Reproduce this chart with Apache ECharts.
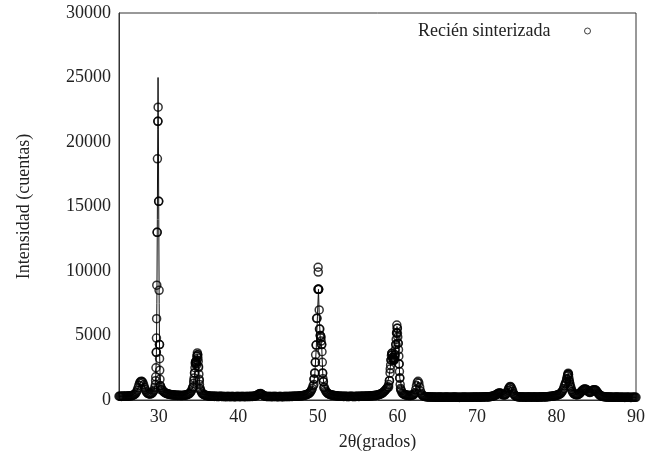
<!DOCTYPE html>
<html>
<head>
<meta charset="utf-8">
<script src="https://cdn.jsdelivr.net/npm/echarts@6/dist/echarts.min.js"></script>
<style>
html, body { margin: 0; padding: 0; background: #fff; }
#chart { width: 659px; height: 459px; }
</style>
</head>
<body>
<div id="chart"></div>
<script>
const seriesName = "Recién sinterizada";
const xName = "2θ(grados)";
const yName = "Intensidad (cuentas)";

// scan sampled every 0.1 deg from 25 to 90, one row per degree
const scanStart = 25;
const scanStep = 0.1;
const scanCounts = [
  290, 300, 300, 280, 290, 310, 300, 290, 300, 310,
  290, 300, 320, 310, 310, 320, 340, 350, 380, 410,
  450, 520, 620, 760, 950, 1150, 1320, 1420, 1460, 1430,
  1350, 1180, 980, 820, 680, 590, 520, 490, 470, 460,
  480, 510, 560, 640, 760, 980, 1500, 3700, 13000, 21600,
  15400, 4300, 1100, 950, 820, 720, 650, 600, 560, 530,
  500, 480, 460, 440, 430, 420, 410, 400, 390, 385,
  380, 370, 370, 360, 350, 360, 360, 350, 340, 350,
  350, 360, 360, 370, 380, 400, 420, 450, 480, 530,
  600, 700, 850, 1000, 1500, 2100, 2900, 2850, 3400, 3500,
  2600, 1500, 900, 700, 560, 490, 440, 410, 380, 360,
  340, 330, 320, 310, 300, 300, 290, 290, 300, 290,
  280, 290, 290, 280, 270, 280, 280, 290, 290, 280,
  270, 280, 280, 270, 260, 270, 280, 270, 270, 280,
  260, 270, 280, 270, 270, 260, 260, 270, 270, 280,
  280, 270, 260, 270, 270, 280, 280, 270, 260, 270,
  270, 280, 280, 270, 270, 280, 290, 280, 280, 290,
  300, 310, 320, 350, 380, 420, 460, 490, 500, 470,
  420, 370, 330, 310, 290, 280, 280, 270, 270, 280,
  280, 270, 260, 270, 270, 280, 280, 270, 270, 260,
  260, 270, 280, 270, 270, 260, 260, 270, 280, 270,
  270, 280, 280, 270, 270, 280, 290, 280, 280, 290,
  290, 300, 300, 290, 290, 300, 310, 310, 320, 320,
  330, 340, 350, 360, 380, 400, 420, 450, 480, 520,
  580, 650, 760, 900, 1100, 1600, 2100, 2920, 4260, 6330,
  8580, 8580, 5500, 5000, 4900, 4300, 2100, 1420, 1000, 820,
  680, 600, 540, 490, 460, 430, 410, 390, 380, 360,
  350, 340, 330, 330, 320, 310, 300, 300, 290, 290,
  300, 290, 280, 280, 290, 290, 280, 270, 270, 280,
  280, 290, 290, 280, 280, 270, 270, 280, 280, 290,
  290, 280, 280, 290, 290, 300, 300, 290, 290, 300,
  300, 310, 310, 300, 300, 310, 320, 320, 330, 330,
  340, 340, 350, 360, 370, 380, 400, 420, 440, 470,
  500, 540, 580, 640, 700, 770, 850, 920, 1000, 1200,
  1500, 2400, 3100, 3620, 3300, 3100, 3150, 3500, 4300, 5200,
  5560, 4400, 2800, 1700, 900, 700, 550, 500, 450, 420,
  400, 380, 370, 360, 350, 350, 340, 350, 360, 380,
  400, 460, 560, 800, 1100, 1350, 1450, 1300, 1000, 700,
  520, 400, 340, 300, 280, 270, 260, 250, 240, 240,
  230, 240, 240, 230, 220, 230, 230, 220, 220, 230,
  220, 210, 210, 230, 230, 220, 220, 210, 210, 220,
  220, 230, 230, 220, 210, 220, 220, 210, 210, 220,
  220, 230, 230, 220, 210, 220, 220, 210, 200, 210,
  220, 210, 210, 220, 230, 220, 220, 210, 210, 220,
  220, 210, 210, 220, 230, 220, 220, 230, 230, 220,
  220, 230, 230, 220, 220, 230, 240, 230, 230, 240,
  240, 250, 250, 240, 240, 250, 260, 270, 280, 290,
  300, 320, 340, 370, 400, 440, 480, 520, 550, 540,
  520, 470, 420, 400, 380, 390, 420, 500, 600, 750,
  900, 1000, 1050, 980, 850, 680, 500, 400, 330, 300,
  270, 260, 250, 240, 240, 230, 230, 240, 240, 230,
  230, 220, 220, 230, 230, 240, 240, 230, 220, 220,
  230, 240, 240, 230, 230, 220, 220, 230, 240, 230,
  230, 240, 240, 250, 250, 240, 240, 250, 260, 260,
  270, 270, 280, 290, 290, 300, 310, 320, 330, 340,
  360, 380, 400, 430, 460, 500, 560, 650, 750, 900,
  1100, 1250, 1400, 1650, 1900, 2000, 1500, 1250, 1000, 800,
  650, 560, 480, 450, 420, 410, 400, 420, 450, 500,
  560, 630, 700, 760, 820, 850, 860, 840, 800, 720,
  650, 600, 580, 600, 650, 720, 780, 800, 800, 780,
  720, 640, 550, 470, 400, 350, 320, 300, 280, 270,
  260, 250, 240, 240, 230, 230, 220, 230, 230, 220,
  220, 210, 210, 220, 220, 230, 230, 220, 210, 210,
  220, 210, 210, 220, 220, 210, 200, 210, 210, 220,
  220, 210, 210, 200, 200, 210, 210, 220, 220, 210,
  210
];

// finer steps over the sharp reflections [2theta, counts]
const peak30 = [
  [29.58, 1200], [29.62, 1800], [29.65, 2500], [29.68, 3700], [29.71, 4800], [29.73, 6300], [29.75, 8900],
  [29.79, 13000], [29.83, 18700], [29.88, 21600], [29.92, 22700], [29.98, 15400], [30.04, 8500], [30.08, 4300],
  [30.10, 3200], [30.12, 2300], [30.15, 1600], [30.19, 1100], [30.25, 800]
];
const peak35 = [
  [34.30, 1000], [34.40, 1300], [34.45, 1700], [34.50, 2100], [34.55, 2500], [34.60, 2800], [34.63, 2950],
  [34.66, 3000], [34.70, 2850], [34.74, 2700], [34.78, 3100], [34.82, 3400], [34.85, 3650], [34.88, 3500],
  [34.92, 3250], [34.96, 3000], [35.00, 2500], [35.04, 2000], [35.08, 1600], [35.12, 1200], [35.20, 800]
];
const peak50 = [
  [49.50, 1200], [49.55, 1630], [49.62, 2070], [49.67, 2920], [49.72, 3500], [49.78, 4260], [49.84, 6330],
  [50.03, 10290], [50.05, 9920], [50.08, 8580], [50.10, 8580], [50.17, 6980], [50.25, 5500], [50.31, 5000],
  [50.36, 4800], [50.41, 4570], [50.46, 4300], [50.52, 3740], [50.56, 2920], [50.60, 2070], [50.64, 1650],
  [50.68, 1420], [50.75, 950]
];
const peak60 = [
  [58.90, 1000], [59.00, 1500], [59.08, 2100], [59.15, 2700], [59.20, 3100], [59.25, 3450], [59.30, 3620],
  [59.35, 3500], [59.40, 3300], [59.45, 3200], [59.50, 3100], [59.55, 3050], [59.60, 3150], [59.65, 3300],
  [59.70, 3500], [59.75, 3900], [59.80, 4300], [59.85, 4700], [59.90, 5200], [59.93, 5810], [59.97, 5560],
  [60.01, 5170], [60.05, 4880], [60.10, 4400], [60.14, 3900], [60.18, 3400], [60.22, 2800], [60.26, 2200],
  [60.30, 1700], [60.35, 1200], [60.42, 800]
];
const peak81 = [
  [81.20, 1300], [81.30, 1600], [81.38, 1850], [81.44, 2000], [81.48, 2080], [81.52, 1950], [81.56, 1700],
  [81.62, 1400], [81.70, 1100]
];

// fitted profile drawn as a thin line
const fitCurve = [
  [25, 290], [26.5, 320], [27.2, 620], [27.5, 1100], [27.8, 1450], [28.1, 1200], [28.5, 600], [29.0, 480],
  [29.4, 750], [29.6, 1300], [29.7, 3500], [29.76, 7500], [29.82, 14000], [29.87, 21000], [29.91, 25000],
  [29.95, 21000], [30.0, 14000], [30.05, 7500], [30.1, 3800], [30.16, 2000], [30.3, 1000], [30.6, 650],
  [31.5, 420], [33, 350], [34.0, 600], [34.3, 1000], [34.5, 2000], [34.65, 2900], [34.75, 2900], [34.85, 3550],
  [34.95, 3150], [35.05, 2000], [35.2, 900], [35.6, 440], [37, 280], [42.4, 380], [42.8, 480], [43.2, 330],
  [48.5, 400], [49.3, 900], [49.6, 1800], [49.8, 4000], [49.95, 6500], [50.08, 8580], [50.18, 6500],
  [50.3, 4800], [50.4, 4600], [50.5, 3900], [50.62, 2000], [50.8, 1000], [51.3, 500], [52.5, 320],
  [57.5, 380], [58.6, 900], [59.0, 2000], [59.3, 3500], [59.5, 3150], [59.7, 3500], [59.85, 4600],
  [59.95, 5700], [60.05, 5200], [60.15, 3900], [60.3, 1700], [60.6, 800], [61.5, 360], [62.2, 560],
  [62.6, 1450], [63.0, 520], [64, 230], [72.4, 400], [72.8, 550], [73.3, 400], [73.8, 600], [74.2, 1050],
  [74.6, 500], [75.5, 240], [80.4, 460], [81.0, 1100], [81.48, 2050], [81.9, 1100], [82.5, 400],
  [83.2, 700], [83.65, 860], [84.2, 580], [84.8, 800], [85.3, 480], [86, 260], [90, 210]
];

const xMin = 25;
const xMax = 90;
const yMax = 30000;

const observed = scanCounts
  .map((c, i) => [+(scanStart + i * scanStep).toFixed(2), c])
  .concat(peak30, peak35, peak50, peak60, peak81);

const serif = "Liberation Serif";
const ink = "#222";

const chart = echarts.init(document.querySelector("#chart"));
chart.setOption({
  animation: false,
  backgroundColor: "#fff",
  grid: {
    left: 119,
    right: 23,
    top: 13,
    bottom: 59,
    show: true,
    borderColor: "#333",
    borderWidth: 1,
  },
  legend: {
    data: [seriesName],
    right: 63,
    top: 17,
    align: "right",
    icon: "circle",
    itemWidth: 64,
    itemHeight: 6,
    itemStyle: { color: "rgba(0,0,0,0)", borderColor: "#111", borderWidth: 1 },
    textStyle: { fontFamily: serif, fontSize: 18, color: ink },
  },
  xAxis: {
    type: "value",
    min: xMin,
    max: xMax,
    interval: 5,
    name: xName,
    nameLocation: "middle",
    nameGap: 33,
    nameTextStyle: { fontFamily: serif, fontSize: 18, color: ink },
    axisLine: { lineStyle: { color: "#333", width: 1 } },
    axisTick: { show: false },
    splitLine: { show: false },
    axisLabel: {
      fontFamily: serif,
      fontSize: 18,
      color: ink,
      margin: 8,
      formatter: v => (v % 10 === 0 ? String(v) : ""),
    },
  },
  yAxis: {
    type: "value",
    min: 0,
    max: yMax,
    interval: 5000,
    name: yName,
    nameLocation: "middle",
    nameGap: 86,
    nameTextStyle: { fontFamily: serif, fontSize: 18, color: ink },
    axisLine: { show: true, lineStyle: { color: "#333", width: 1 } },
    axisTick: { show: false },
    splitLine: { show: false },
    axisLabel: { fontFamily: serif, fontSize: 18, color: ink, margin: 8, formatter: v => String(v) },
  },
  series: [
    {
      name: "Ajuste",
      type: "line",
      data: fitCurve,
      showSymbol: false,
      symbol: "none",
      lineStyle: { color: "#111", width: 1 },
      silent: true,
      z: 2,
    },
    {
      name: seriesName,
      type: "scatter",
      data: observed,
      symbol: "circle",
      symbolSize: 8,
      itemStyle: { color: "rgba(0,0,0,0)", borderColor: "#000", borderWidth: 1.5 },
      silent: true,
      z: 3,
    },
  ],
});
</script>
</body>
</html>
